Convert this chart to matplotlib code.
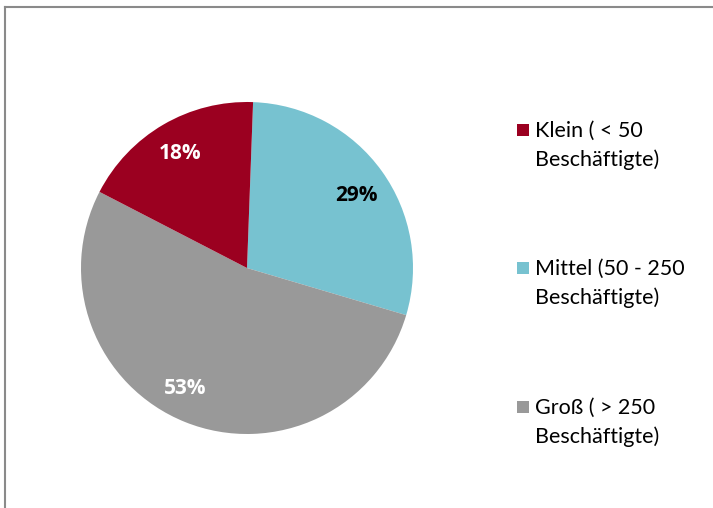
import matplotlib
matplotlib.use("Agg")
import matplotlib.pyplot as plt
from matplotlib.patches import Rectangle
from matplotlib.lines import Line2D
import numpy as np

categories = ["Klein ( < 50\nBeschäftigte)", "Mittel (50 - 250\nBeschäftigte)", "Groß ( > 250\nBeschäftigte)"]
values = [18, 29, 53]
labels = ["18%", "29%", "53%"]
colors = ["#9B0020", "#77C2D0", "#999999"]
label_colors = ["white", "black", "white"]
label_shift = [(0, 0), (2, -5), (-12, 3)]  # small pixel nudges of the data labels

plt.rcParams['font.family'] = ['Lato', 'DejaVu Sans']

W, H = 713, 508
fig = plt.figure(figsize=(W / 100, H / 100), dpi=100)

# pie axes: center (247,268), radius 166 px
cx, cy, r = 247, 268, 166
ax = fig.add_axes([(cx - r) / W, (H - cy - r) / H, 2 * r / W, 2 * r / H])

order = [1, 2, 0]  # clockwise from top: Mittel, Groß, Klein
pvals = [values[i] for i in order]
pcols = [colors[i] for i in order]
wedges, _ = ax.pie(pvals, colors=pcols, startangle=87.9, counterclock=False,
                   radius=1.0, wedgeprops=dict(linewidth=0))
for w, i in zip(wedges, order):
    ang = np.deg2rad((w.theta1 + w.theta2) / 2)
    d = 0.80
    ax.annotate(labels[i], (d * np.cos(ang), d * np.sin(ang)),
                xytext=(label_shift[i][0] * 0.72, label_shift[i][1] * 0.72),
                textcoords="offset points", ha="center", va="center",
                fontsize=15, fontweight="bold", color=label_colors[i],
                family=["Open Sans", "DejaVu Sans"])
ax.set_xlim(-1, 1)
ax.set_ylim(-1, 1)
ax.set_aspect("equal")
ax.axis("off")

# legend drawn manually
ys = [130, 268, 407]
for y, cat, col in zip(ys, categories, colors):
    fig.patches.append(Rectangle((517 / W, 1 - (y + 6) / H), 12 / W, 12 / H,
                                 transform=fig.transFigure, facecolor=col, edgecolor="none"))
    fig.text(535 / W, 1 - (y + 15.5) / H, cat, ha="left", va="center", fontsize=15.5,
             color="black", linespacing=1.48)

# frame border (top and left)
fig.add_artist(Line2D([4.5 / W, 1], [1 - 7 / H, 1 - 7 / H], transform=fig.transFigure,
                      color="#8a8a8a", linewidth=1.5))
fig.add_artist(Line2D([4.5 / W, 4.5 / W], [0, 1 - 7 / H], transform=fig.transFigure,
                      color="#8a8a8a", linewidth=1.5))

fig.savefig("out.png", dpi=100, facecolor="white")
